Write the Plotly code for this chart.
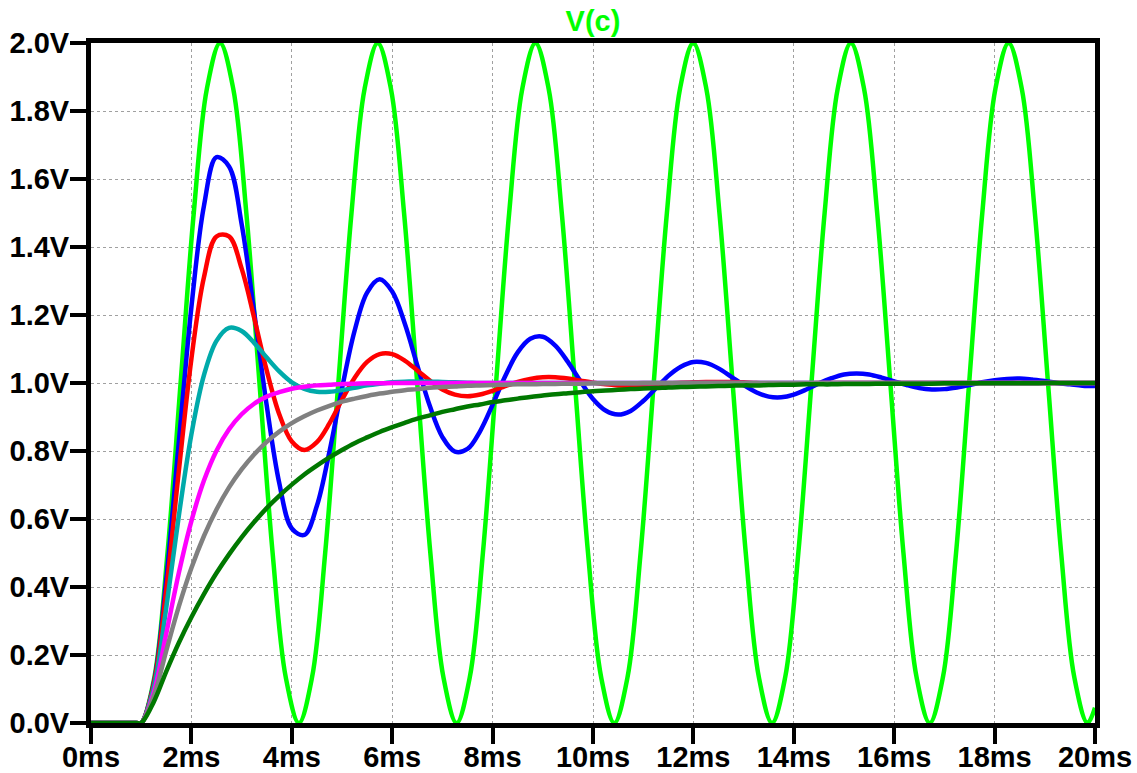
import plotly.graph_objects as go

# time axis (ms) shared by the damped runs
t_ms = [0.0, 0.5, 0.9, 1.0, 1.25, 1.5, 1.75, 2.0, 2.25, 2.5, 2.75, 3.0, 3.25, 3.5, 3.75, 4.0,
        4.25, 4.5, 4.75, 5.0, 5.25, 5.5, 5.75, 6.0, 6.25, 6.5, 6.75, 7.0, 7.25, 7.5,
        7.75, 8.0, 8.25, 8.5, 8.75, 9.0, 9.25, 9.5, 9.75, 10.0, 10.25, 10.5, 10.75,
        11.0, 11.25, 11.5, 11.75, 12.0, 12.25, 12.5, 12.75, 13.0, 13.25, 13.5, 13.75,
        14.0, 14.25, 14.5, 14.75, 15.0, 15.25, 15.5, 15.75, 16.0, 16.25, 16.5, 16.75,
        17.0, 17.25, 17.5, 17.75, 18.0, 18.25, 18.5, 18.75, 19.0, 19.25, 19.5, 19.75, 20.0]

# time axis (ms) for the undamped run (read at its peaks, troughs and in between)
t_green = [0.0, 0.5, 0.9, 1.000, 1.262, 1.524, 1.785, 2.047, 2.309, 2.571, 2.833, 3.094,
           3.356, 3.618, 3.880, 4.142, 4.403, 4.665, 4.927, 5.189, 5.451, 5.712, 5.974,
           6.236, 6.498, 6.760, 7.021, 7.283, 7.545, 7.807, 8.069, 8.330, 8.592, 8.854,
           9.116, 9.378, 9.639, 9.901, 10.163, 10.425, 10.687, 10.948, 11.210, 11.472,
           11.734, 11.996, 12.257, 12.519, 12.781, 13.043, 13.305, 13.566, 13.828,
           14.090, 14.352, 14.614, 14.875, 15.137, 15.399, 15.661, 15.923, 16.184,
           16.446, 16.708, 16.970, 17.232, 17.493, 17.755, 18.017, 18.279, 18.541,
           18.802, 19.064, 19.326, 19.588, 19.850, 20.0]

v_green = [0.0, 0.0, 0.0,
           0.000, 0.134, 0.500, 1.000, 1.500, 1.866, 2.000, 1.866, 1.500, 1.000, 0.500, 0.134,
           0.000, 0.134, 0.500, 1.000, 1.500, 1.866, 2.000, 1.866, 1.500, 1.000, 0.500, 0.134,
           0.000, 0.134, 0.500, 1.000, 1.500, 1.866, 2.000, 1.866, 1.500, 1.000, 0.500, 0.134,
           0.000, 0.134, 0.500, 1.000, 1.500, 1.866, 2.000, 1.866, 1.500, 1.000, 0.500, 0.134,
           0.000, 0.134, 0.500, 1.000, 1.500, 1.866, 2.000, 1.866, 1.500, 1.000, 0.500, 0.134,
           0.000, 0.134, 0.500, 1.000, 1.500, 1.866, 2.000, 1.866, 1.500, 1.000, 0.500, 0.134,
           0.000, 0.045]

v_blue = [0.0, 0.0, 0.0,
          0.000, 0.117, 0.424, 0.827, 1.223, 1.521, 1.664, 1.637, 1.468, 1.209,
          0.934, 0.706, 0.572, 0.553, 0.639, 0.798, 0.984, 1.153, 1.266, 1.305,
          1.269, 1.175, 1.052, 0.932, 0.841, 0.798, 0.806, 0.858, 0.936, 1.020,
          1.090, 1.130, 1.136, 1.110, 1.062, 1.005, 0.953, 0.919, 0.907, 0.918,
          0.947, 0.984, 1.021, 1.048, 1.062, 1.059, 1.043, 1.019, 0.994, 0.973,
          0.960, 0.958, 0.966, 0.981, 0.999, 1.014, 1.025, 1.028, 1.025, 1.016,
          1.005, 0.994, 0.985, 0.981, 0.982, 0.987, 0.994, 1.002, 1.008, 1.012,
          1.013, 1.010, 1.006, 1.000, 0.996, 0.992, 0.991]

v_red = [0.0, 0.0, 0.0,
         0.000, 0.113, 0.393, 0.742, 1.071, 1.311, 1.431, 1.431, 1.337, 1.192,
         1.037, 0.908, 0.828, 0.803, 0.826, 0.881, 0.951, 1.015, 1.062, 1.085,
         1.085, 1.066, 1.037, 1.007, 0.981, 0.966, 0.961, 0.966, 0.977, 0.991,
         1.003, 1.012, 1.017, 1.017, 1.013, 1.007, 1.001, 0.996, 0.993, 0.992,
         0.993, 0.995, 0.998, 1.001, 1.002, 1.003, 1.003, 1.003, 1.002, 1.000,
         0.999, 0.999, 0.999, 0.999, 1.000, 1.000, 1.000, 1.000, 1.000, 1.000,
         1.000, 1.000, 1.000, 1.000, 1.000, 1.000, 1.000, 1.000, 1.000, 1.000,
         1.000, 1.000, 1.000, 1.000, 1.000, 1.000, 1.000]

v_teal = [0.0, 0.0, 0.0,
          0.000, 0.104, 0.340, 0.610, 0.849, 1.023, 1.124, 1.162, 1.153, 1.118,
          1.075, 1.034, 1.002, 0.983, 0.974, 0.974, 0.979, 0.986, 0.993, 0.998,
          1.002, 1.004, 1.004, 1.004, 1.003, 1.002, 1.001, 1.000, 1.000, 1.000,
          1.000, 1.000, 1.000, 1.000, 1.000, 1.000, 1.000, 1.000, 1.000, 1.000,
          1.000, 1.000, 1.000, 1.000, 1.000, 1.000, 1.000, 1.000, 1.000, 1.000,
          1.000, 1.000, 1.000, 1.000, 1.000, 1.000, 1.000, 1.000, 1.000, 1.000,
          1.000, 1.000, 1.000, 1.000, 1.000, 1.000, 1.000, 1.000, 1.000, 1.000,
          1.000, 1.000, 1.000, 1.000, 1.000, 1.000, 1.000]

v_magenta = [0.0, 0.0, 0.0,
             0.000, 0.090, 0.264, 0.442, 0.594, 0.713, 0.801, 0.864, 0.908, 0.939,
             0.960, 0.973, 0.983, 0.989, 0.993, 0.995, 0.997, 0.998, 0.999, 0.999,
             1.000, 1.000, 1.000, 1.000, 1.000, 1.000, 1.000, 1.000, 1.000, 1.000,
             1.000, 1.000, 1.000, 1.000, 1.000, 1.000, 1.000, 1.000, 1.000, 1.000,
             1.000, 1.000, 1.000, 1.000, 1.000, 1.000, 1.000, 1.000, 1.000, 1.000,
             1.000, 1.000, 1.000, 1.000, 1.000, 1.000, 1.000, 1.000, 1.000, 1.000,
             1.000, 1.000, 1.000, 1.000, 1.000, 1.000, 1.000, 1.000, 1.000, 1.000,
             1.000, 1.000, 1.000, 1.000, 1.000, 1.000, 1.000]

v_gray = [0.0, 0.0, 0.0,
          0.000, 0.079, 0.213, 0.343, 0.456, 0.550, 0.628, 0.693, 0.746, 0.790,
          0.827, 0.857, 0.882, 0.902, 0.919, 0.933, 0.945, 0.954, 0.962, 0.969,
          0.974, 0.979, 0.982, 0.986, 0.988, 0.990, 0.992, 0.993, 0.994, 0.995,
          0.996, 0.996, 0.997, 0.997, 0.998, 0.998, 0.999, 0.999, 0.999, 0.999,
          1.000, 1.000, 1.000, 1.000, 1.000, 1.000, 1.000, 1.000, 1.000, 1.000,
          1.000, 1.000, 1.000, 1.000, 1.000, 1.000, 1.000, 1.000, 1.000, 1.000,
          1.000, 1.000, 1.000, 1.000, 1.000, 1.000, 1.000, 1.000, 1.000, 1.000,
          1.000, 1.000, 1.000, 1.000, 1.000, 1.000, 1.000]

v_darkgreen = [0.0, 0.0, 0.0,
               0.000, 0.062, 0.152, 0.236, 0.311, 0.379, 0.441, 0.496, 0.546, 0.591,
               0.632, 0.668, 0.701, 0.731, 0.757, 0.781, 0.803, 0.823, 0.840, 0.856,
               0.870, 0.883, 0.895, 0.905, 0.915, 0.923, 0.931, 0.937, 0.944, 0.949,
               0.954, 0.959, 0.963, 0.967, 0.970, 0.973, 0.976, 0.978, 0.980, 0.982,
               0.984, 0.985, 0.987, 0.988, 0.989, 0.990, 0.991, 0.992, 0.993, 0.993,
               0.994, 0.995, 0.995, 0.996, 0.996, 0.996, 0.997, 0.997, 0.997, 0.998,
               0.998, 0.998, 0.998, 0.998, 0.999, 0.999, 0.999, 0.999, 0.999, 0.999,
               0.999, 0.999, 1.000, 1.000, 1.000, 1.000, 1.000]

x_tickvals = [0, 2, 4, 6, 8, 10, 12, 14, 16, 18, 20]
x_ticktext = ["0ms", "2ms", "4ms", "6ms", "8ms", "10ms", "12ms", "14ms", "16ms", "18ms", "20ms"]
y_tickvals = [0.0, 0.2, 0.4, 0.6, 0.8, 1.0, 1.2, 1.4, 1.6, 1.8, 2.0]
y_ticktext = ["0.0V", "0.2V", "0.4V", "0.6V", "0.8V", "1.0V", "1.2V", "1.4V", "1.6V", "1.8V", "2.0V"]

series = [
    ("run1", t_green, v_green, "#00FF00"),
    ("run2", t_ms, v_blue, "#0000FF"),
    ("run3", t_ms, v_red, "#FF0000"),
    ("run4", t_ms, v_teal, "#00AAAA"),
    ("run5", t_ms, v_magenta, "#FF00FF"),
    ("run6", t_ms, v_gray, "#808080"),
    ("run7", t_ms, v_darkgreen, "#007800"),
]

fig = go.Figure()
for name, xs, vals, col in series:
    fig.add_trace(go.Scatter(
        x=xs, y=vals, mode="lines", name=name,
        line=dict(color=col, width=4.5, shape="spline", smoothing=1.0),
        showlegend=False, hoverinfo="skip",
    ))

font_tick = dict(family="Liberation Sans, Arial, sans-serif", size=29, color="black", weight="bold")

fig.update_layout(
    width=1137, height=773,
    margin=dict(l=91, r=42, t=43, b=50),
    paper_bgcolor="white", plot_bgcolor="white",
    title=dict(text="V(c)", x=0.5, xref="paper", xanchor="center",
               y=1 - 21 / 773, yanchor="middle",
               font=dict(family="Liberation Sans, Arial, sans-serif", size=29,
                         color="#00FF00", weight="bold")),
)

fig.update_xaxes(
    range=[0, 20], tickvals=x_tickvals, ticktext=x_ticktext, automargin=False,
    showgrid=True, gridcolor="#a0a0a0", gridwidth=1, griddash="dot",
    showline=True, linecolor="black", linewidth=5, mirror=True,
    ticks="outside", ticklen=16, tickwidth=4, tickcolor="black",
    tickfont=font_tick, zeroline=False, ticklabelstandoff=-12,
)
fig.update_yaxes(
    range=[0, 2], tickvals=y_tickvals, ticktext=y_ticktext, automargin=False,
    showgrid=True, gridcolor="#a0a0a0", gridwidth=1, griddash="dot",
    showline=True, linecolor="black", linewidth=5, mirror=True,
    ticks="outside", ticklen=16, tickwidth=4, tickcolor="black",
    tickfont=font_tick, zeroline=False, ticklabelstandoff=-5,
)

fig.write_html(
    "out.html",
    config={"displayModeBar": False},
    post_script="document.body.style.margin='0';document.body.style.overflow='hidden';",
)
